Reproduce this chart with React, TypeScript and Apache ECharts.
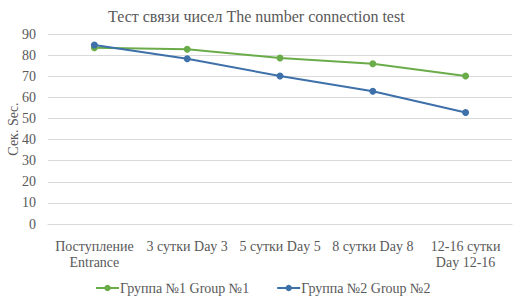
import React, { useEffect, useRef } from "react";
import * as echarts from "echarts";

const categories = ["Поступление\nEntrance", "3 сутки Day 3", "5 сутки Day 5", "8 сутки Day 8", "12-16 сутки\nDay 12-16"];
const group1 = [83.5, 82.8, 78.6, 75.9, 70.1];
const group2 = [84.8, 78.3, 70.1, 62.9, 52.8];
const seriesNames = ["Группа №1 Group №1", "Группа №2 Group №2"];
const yTicks = { min: 0, max: 90, interval: 10 };

const FONT = "Liberation Serif";
const TXT = "#595959";

export default function App() {
  const ref = useRef<HTMLDivElement>(null);
  useEffect(() => {
    const chart = echarts.init(ref.current!, null, { renderer: "svg" });
    chart.setOption({
      animation: false,
      textStyle: { fontFamily: FONT },
      title: {
        text: "Тест связи чисел The number connection test",
        left: 103,
        top: 3,
        textStyle: { fontFamily: FONT, fontSize: 16, fontWeight: "normal", color: TXT },
      },
      grid: { left: 48, right: 20, top: 34, bottom: 76, outerBoundsMode: "none", containLabel: false },
      legend: {
        bottom: 5,
        left: 95,
        padding: 0,
        itemWidth: 23,
        itemHeight: 8,
        itemGap: 27,
        textStyle: { fontFamily: FONT, fontSize: 14, color: TXT, padding: [0, 0, 0, -4] },
        data: seriesNames,
      },
      xAxis: {
        type: "category",
        data: categories,
        axisLine: { lineStyle: { color: "#d9d9d9" } },
        axisTick: { show: false },
        axisLabel: { fontFamily: FONT, fontSize: 14, color: TXT, margin: 14, lineHeight: 16, interval: 0 },
      },
      yAxis: {
        type: "value",
        min: yTicks.min,
        max: yTicks.max,
        interval: yTicks.interval,
        name: "Сек. Sec.",
        nameLocation: "middle",
        nameGap: 28,
        nameMoveOverlap: false,
        nameTextStyle: { fontFamily: FONT, fontSize: 14, color: TXT },
        axisLine: { show: false },
        axisTick: { show: false },
        axisLabel: { fontFamily: FONT, fontSize: 14, color: TXT, margin: 12 },
        splitLine: { lineStyle: { color: "#d9d9d9" } },
      },
      series: [
        {
          name: seriesNames[0],
          type: "line",
          data: group1,
          symbol: "circle",
          symbolSize: 7,
          color: "#6aac4a",
          lineStyle: { width: 2 },
        },
        {
          name: seriesNames[1],
          type: "line",
          data: group2,
          symbol: "circle",
          symbolSize: 7,
          color: "#3e70a9",
          lineStyle: { width: 2 },
        },
      ],
    });
    return () => chart.dispose();
  }, []);
  return <div ref={ref} style={{ width: 532, height: 300, position: "absolute", left: 0, top: 0 }} />;
}
